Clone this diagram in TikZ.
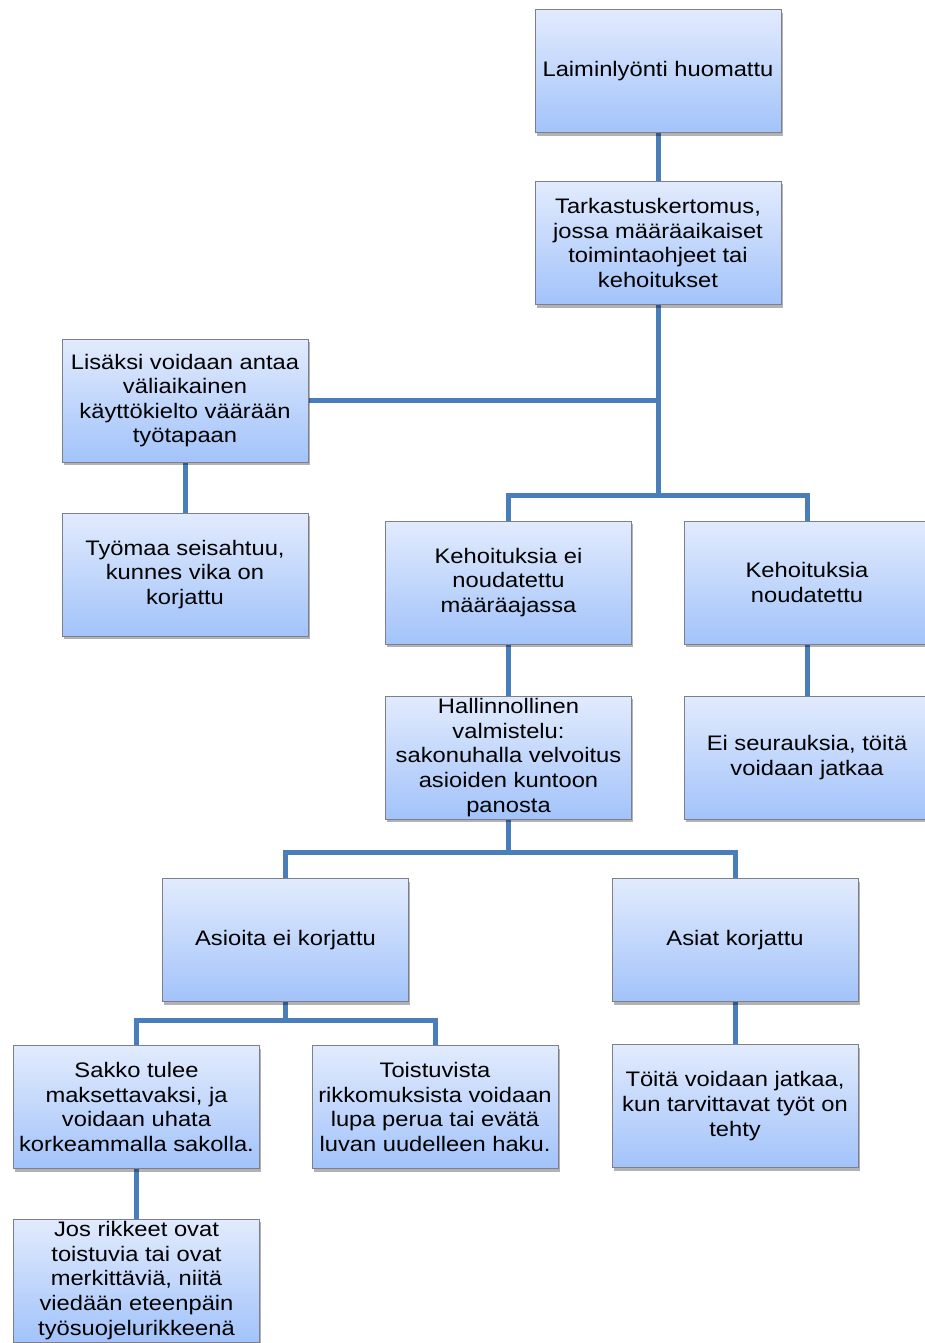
\documentclass[tikz,border=0pt]{standalone}
\usepackage{fontspec}
\setmainfont{Liberation Sans}[FakeStretch=1.13]
\usetikzlibrary{shadows,backgrounds}
\definecolor{boxtop}{RGB}{226,235,253}
\definecolor{boxbot}{RGB}{162,195,250}
\definecolor{boxedge}{RGB}{125,128,140}
\definecolor{linkblue}{RGB}{74,126,187}
\tikzset{
  box/.style={rectangle, draw=boxedge, line width=1pt,
    top color=boxtop, bottom color=boxbot,
    minimum width=246pt, minimum height=123pt, inner sep=0pt,
    align=center, font=\fontsize{21}{24.6}\selectfont,
    drop shadow={shadow xshift=1.5pt, shadow yshift=-3pt, opacity=0.3, fill=black}},
  link/.style={draw=linkblue, line width=5pt}
}
\begin{document}
\begin{tikzpicture}[x=1pt,y=1pt]
\useasboundingbox (0,0) rectangle (924,-1343);
\node[box] (b1) at (658,-71.5) {Laiminlyönti huomattu};
\node[box] (b2) at (658,-243) {Tarkastuskertomus,\\ jossa määräaikaiset\\ toimintaohjeet tai\\ kehoitukset};
\node[box] (b3) at (185,-400.5) {Lisäksi voidaan antaa\\ väliaikainen\\ käyttökielto väärään\\ työtapaan};
\node[box] (b4) at (185,-574.5) {Työmaa seisahtuu,\\ kunnes vika on\\ korjattu};
\node[box] (b5) at (508.5,-582.5) {Kehoituksia ei\\ noudatettu\\ määräajassa};
\node[box] (b6) at (807,-582.5) {Kehoituksia\\ noudatettu};
\node[box] (b7) at (508.5,-757.5) {Hallinnollinen\\ valmistelu:\\ sakonuhalla velvoitus\\ asioiden kuntoon\\ panosta};
\node[box] (b8) at (807,-757.5) {Ei seurauksia, töitä\\ voidaan jatkaa};
\node[box] (b9) at (285.5,-940) {Asioita ei korjattu};
\node[box] (b10) at (735,-940) {Asiat korjattu};
\node[box] (b11) at (735,-1106) {Töitä voidaan jatkaa,\\ kun tarvittavat työt on\\ tehty};
\node[box] (b12) at (136.5,-1107) {Sakko tulee\\ maksettavaksi, ja\\ voidaan uhata\\ korkeammalla sakolla.};
\node[box] (b13) at (435,-1107) {Toistuvista\\ rikkomuksista voidaan\\ lupa perua tai evätä\\ luvan uudelleen haku.};
\node[box] (b14) at (136.5,-1280.5) {Jos rikkeet ovat\\ toistuvia tai ovat\\ merkittäviä, niitä\\ viedään eteenpäin\\ työsuojelurikkeenä};
\coordinate (j1) at (658,-495);
\coordinate (j2) at (508.5,-852);
\coordinate (j3) at (285.5,-1020);
\begin{scope}[on background layer]
\fill[white] (0,0) rectangle (924,-1343);
\draw[link] (b1.south) -- (b2.north);
\draw[link] (b2.south) -- (j1);
\draw[link] (b3.east) -| (b2.south);
\draw[link] (b5.north) |- (j1) -| (b6.north);
\draw[link] (b3.south) -- (b4.north);
\draw[link] (b5.south) -- (b7.north);
\draw[link] (b6.south) -- (b8.north);
\draw[link] (b7.south) -- (j2);
\draw[link] (b9.north) |- (j2) -| (b10.north);
\draw[link] (b10.south) -- (b11.north);
\draw[link] (b9.south) -- (j3);
\draw[link] (b12.north) |- (j3) -| (b13.north);
\draw[link] (b12.south) -- (b14.north);
\end{scope}
\end{tikzpicture}
\end{document}
